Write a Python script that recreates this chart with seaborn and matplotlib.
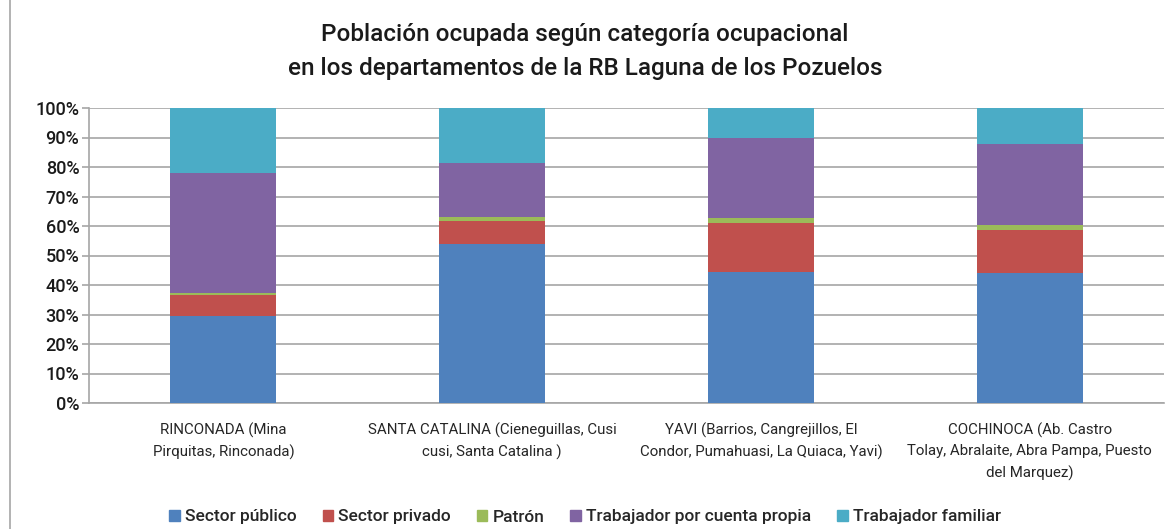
import pandas as pd
import matplotlib.pyplot as plt
import matplotlib.lines as mlines
import matplotlib.patches as mpatches
import seaborn as sns

# Datos (% de población ocupada)
departamentos = [
    "RINCONADA (Mina\nPirquitas, Rinconada)",
    "SANTA CATALINA (Cieneguillas, Cusi\ncusi, Santa Catalina )",
    "YAVI (Barrios, Cangrejillos, El\nCondor, Pumahuasi, La Quiaca, Yavi)",
    "COCHINOCA (Ab. Castro\nTolay, Abralaite, Abra Pampa, Puesto\ndel Marquez)",
]
categorias = ["Sector público", "Sector privado", "Patrón",
              "Trabajador por cuenta propia", "Trabajador familiar"]
sector_publico = [29.4, 54.0, 44.4, 44.0]
sector_privado = [7.1, 7.6, 16.7, 14.6]
patron = [0.8, 1.3, 1.7, 1.7]
cuenta_propia = [40.7, 18.4, 26.9, 27.4]
familiar = [22.0, 18.7, 10.3, 12.3]
colores = ["#4F81BD", "#C0504D", "#9BBB59", "#8064A2", "#4BACC6"]

df = pd.DataFrame({
    "depto": departamentos,
    "Sector público": sector_publico,
    "Sector privado": sector_privado,
    "Patrón": patron,
    "Trabajador por cuenta propia": cuenta_propia,
    "Trabajador familiar": familiar,
})
# normalizar a 100%
tot = df[categorias].sum(axis=1)
for c in categorias:
    df[c] = df[c] / tot * 100
acum = df[categorias].cumsum(axis=1)

sns.set_style("white")
plt.rcParams["font.family"] = ["Roboto", "DejaVu Sans"]

fig = plt.figure(figsize=(11.7, 5.29), dpi=100)
ax = fig.add_axes([89 / 1170, 1 - 403 / 529, (1164 - 89) / 1170, (403 - 108) / 529])

# barras apiladas: dibujar acumulados de arriba hacia abajo
for c, col in reversed(list(zip(categorias, colores))):
    sns.barplot(x=df["depto"], y=acum[c], color=col, width=0.395,
                saturation=1, linewidth=0, ax=ax, zorder=3)

ax.set_ylim(0, 100)
ax.set_xlim(-0.5, 3.5)
ax.set_yticks(range(0, 101, 10))
ax.set_yticklabels([f"{v}%" for v in range(0, 101, 10)], fontsize=13,
                   color="#1a1a1a", fontweight="medium")
ax.yaxis.grid(True, color="#A6A6A6", lw=1.2, zorder=0)
ax.tick_params(axis="y", left=True, length=5, color="#A6A6A6", width=1.2, pad=2)
ax.set_xticks(range(4))
ax.set_xticklabels(departamentos, fontsize=10.8, color="#262626", linespacing=1.6)
ax.set_xticks([0.5, 1.5, 2.5, 3.5], minor=True)
ax.tick_params(axis="x", which="major", length=0, pad=14)
ax.tick_params(axis="x", which="minor", length=5, color="#A6A6A6", width=1.2)
ax.set_xlabel("")
ax.set_ylabel("")
for s in ["top", "right"]:
    ax.spines[s].set_visible(False)
for s in ["left", "bottom"]:
    ax.spines[s].set_color("#A6A6A6")
    ax.spines[s].set_linewidth(1.2)

fig.text(0.5, 1 - 35 / 529, "Población ocupada según categoría ocupacional",
         ha="center", va="center", fontsize=17.5, color="#1a1a1a", fontweight="medium")
fig.text(0.5, 1 - 69 / 529, "en los departamentos de la RB Laguna de los Pozuelos",
         ha="center", va="center", fontsize=17.5, color="#1a1a1a", fontweight="medium")

handles = [mpatches.Patch(color=col, label=c) for c, col in zip(categorias, colores)]
fig.legend(handles=handles, loc="center", bbox_to_anchor=(0.5, 1 - 517 / 529),
           ncol=5, frameon=False, fontsize=12.5, handlelength=0.6,
           handleheight=0.6, handletextpad=0.3, columnspacing=1.5,
           prop={"size": 12.5, "weight": "medium"})

# borde izquierdo del área del gráfico
fig.add_artist(mlines.Line2D([10 / 1170, 10 / 1170], [0, 1], color="#A6A6A6", lw=1.2))

plt.savefig("out.png", dpi=100)
